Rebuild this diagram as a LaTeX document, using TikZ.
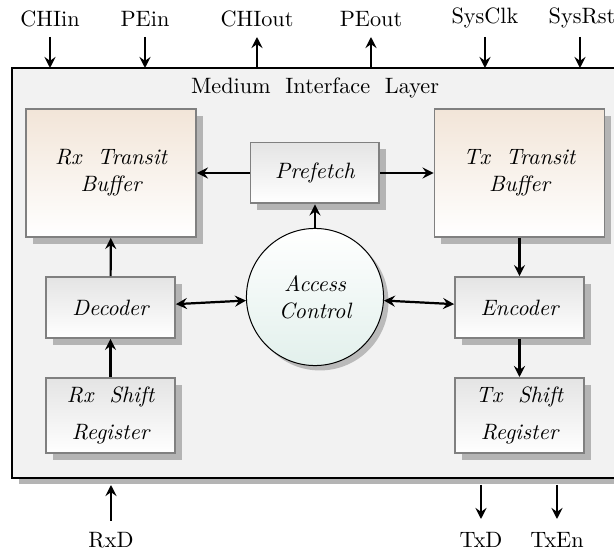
\documentclass[tikz,border=0pt]{standalone}
\usetikzlibrary{arrows.meta,shadows}
\definecolor{panel}{RGB}{242,242,242}
\definecolor{frame}{RGB}{128,128,128}
\definecolor{shade}{RGB}{180,180,180}
\definecolor{warmtop}{RGB}{242,229,216}
\definecolor{greytop}{RGB}{228,228,228}
\definecolor{mintbot}{RGB}{226,240,236}
\tikzset{
  tip/.tip={Stealth[length=5pt,width=5pt,inset=1.8pt]},
  arr/.style={line width=1pt,-tip},
  biarr/.style={line width=1pt,tip-tip},
  boxshadow/.style={drop shadow={shadow xshift=3.1pt,shadow yshift=-3.1pt,fill=shade,opacity=1}},
  blk/.style={boxshadow,draw=frame,line width=0.85pt,inner sep=0pt,align=center,
    font=\itshape,top color=greytop,bottom color=white},
  bufbox/.style={blk,top color=warmtop,bottom color=white,
    minimum width=76.5pt,minimum height=57.6pt},
  unitbox/.style={blk,minimum width=58pt,minimum height=27.4pt},
  regbox/.style={blk,minimum width=58pt,minimum height=33.8pt},
  ctrlbox/.style={circle,draw=black,line width=0.45pt,inner sep=0pt,
    minimum size=61.7pt,align=center,font=\itshape,
    top color=white,bottom color=mintbot,
    drop shadow={shadow xshift=2.2pt,shadow yshift=-2.2pt,fill=shade,opacity=0.9}},
  siglabel/.style={inner sep=0pt}
}
\begin{document}
\begin{tikzpicture}[x=0.45pt,y=-0.45pt]
\useasboundingbox (0,0) rectangle (614,552);
\clip (0,0) rectangle (614,552);

% enclosing layer
\node[draw=black,line width=1pt,fill=panel,inner sep=0pt,
  minimum width=273.6pt,minimum height=184.5pt,
  drop shadow={shadow xshift=3pt,shadow yshift=-2.5pt,fill=shade,opacity=1}]
  (layer) at (316,273) {};
\node (title) at (315,88) {Medium\ \ Interface\ \ Layer};

% functional blocks
\node[bufbox] (rxb) at (111,173) {Rx\ \ Transit\\Buffer};
\node[bufbox] (txb) at (519.5,173) {Tx\ \ Transit\\Buffer};
\node[unitbox] (pre) at (315,173) {Prefetch};
\node[ctrlbox] (ac) at (315,297) {Access\\Control};
\node[unitbox] (dec) at (110.5,307.5) {Decoder};
\node[unitbox] (enc) at (519.5,307.5) {Encoder};
\node[regbox] (rxs) at (110.5,415.5) {Rx\ \ Shift\\[5pt]Register};
\node[regbox] (txs) at (519.5,415.5) {Tx\ \ Shift\\[5pt]Register};

% internal data paths
\draw[arr] (pre) -- (rxb);
\draw[arr] (pre) -- (txb);
\draw[arr] (ac) -- (pre);
\draw[arr] (rxs) -- (dec);
\draw[arr] (dec) -- (rxb);
\draw[arr] (txb) -- (enc);
\draw[arr] (enc) -- (txs);
\draw[biarr] (dec) -- (ac);
\draw[biarr] (ac) -- (enc);

% top signals
\node[siglabel] (chiin)  at (50,19)  {CHIin};
\node[siglabel] (pein)   at (145,19) {PEin};
\node[siglabel] (chiout) at (257,19) {CHIout};
\node[siglabel] (peout)  at (371,19) {PEout};
\node[siglabel] (sysclk) at (485,18) {SysClk};
\node[siglabel] (sysrst) at (582,18) {SysRst};
\foreach \n/\x in {chiin/50,pein/145,chiout/257,peout/371,sysclk/485,sysrst/580}{
  \coordinate (\n-a) at (\x,37);
  \coordinate (\n-b) at (\x,68);
}
\draw[arr] (chiin-a) -- (chiin-b);
\draw[arr] (pein-a) -- (pein-b);
\draw[arr] (chiout-b) -- (chiout-a);
\draw[arr] (peout-b) -- (peout-a);
\draw[arr] (sysclk-a) -- (sysclk-b);
\draw[arr] (sysrst-a) -- (sysrst-b);

% bottom signals
\node[siglabel] (rxd)  at (111,540) {RxD};
\node[siglabel] (txd)  at (481,540) {TxD};
\node[siglabel] (txen) at (557,540) {TxEn};
\coordinate (rxd-a) at (111,521);
\coordinate (rxd-b) at (111,485);
\coordinate (txd-a) at (481,485);
\coordinate (txd-b) at (481,519);
\coordinate (txen-a) at (557,485);
\coordinate (txen-b) at (557,519);
\draw[arr] (rxd-a) -- (rxd-b);
\draw[arr] (txd-a) -- (txd-b);
\draw[arr] (txen-a) -- (txen-b);
\end{tikzpicture}
\end{document}
